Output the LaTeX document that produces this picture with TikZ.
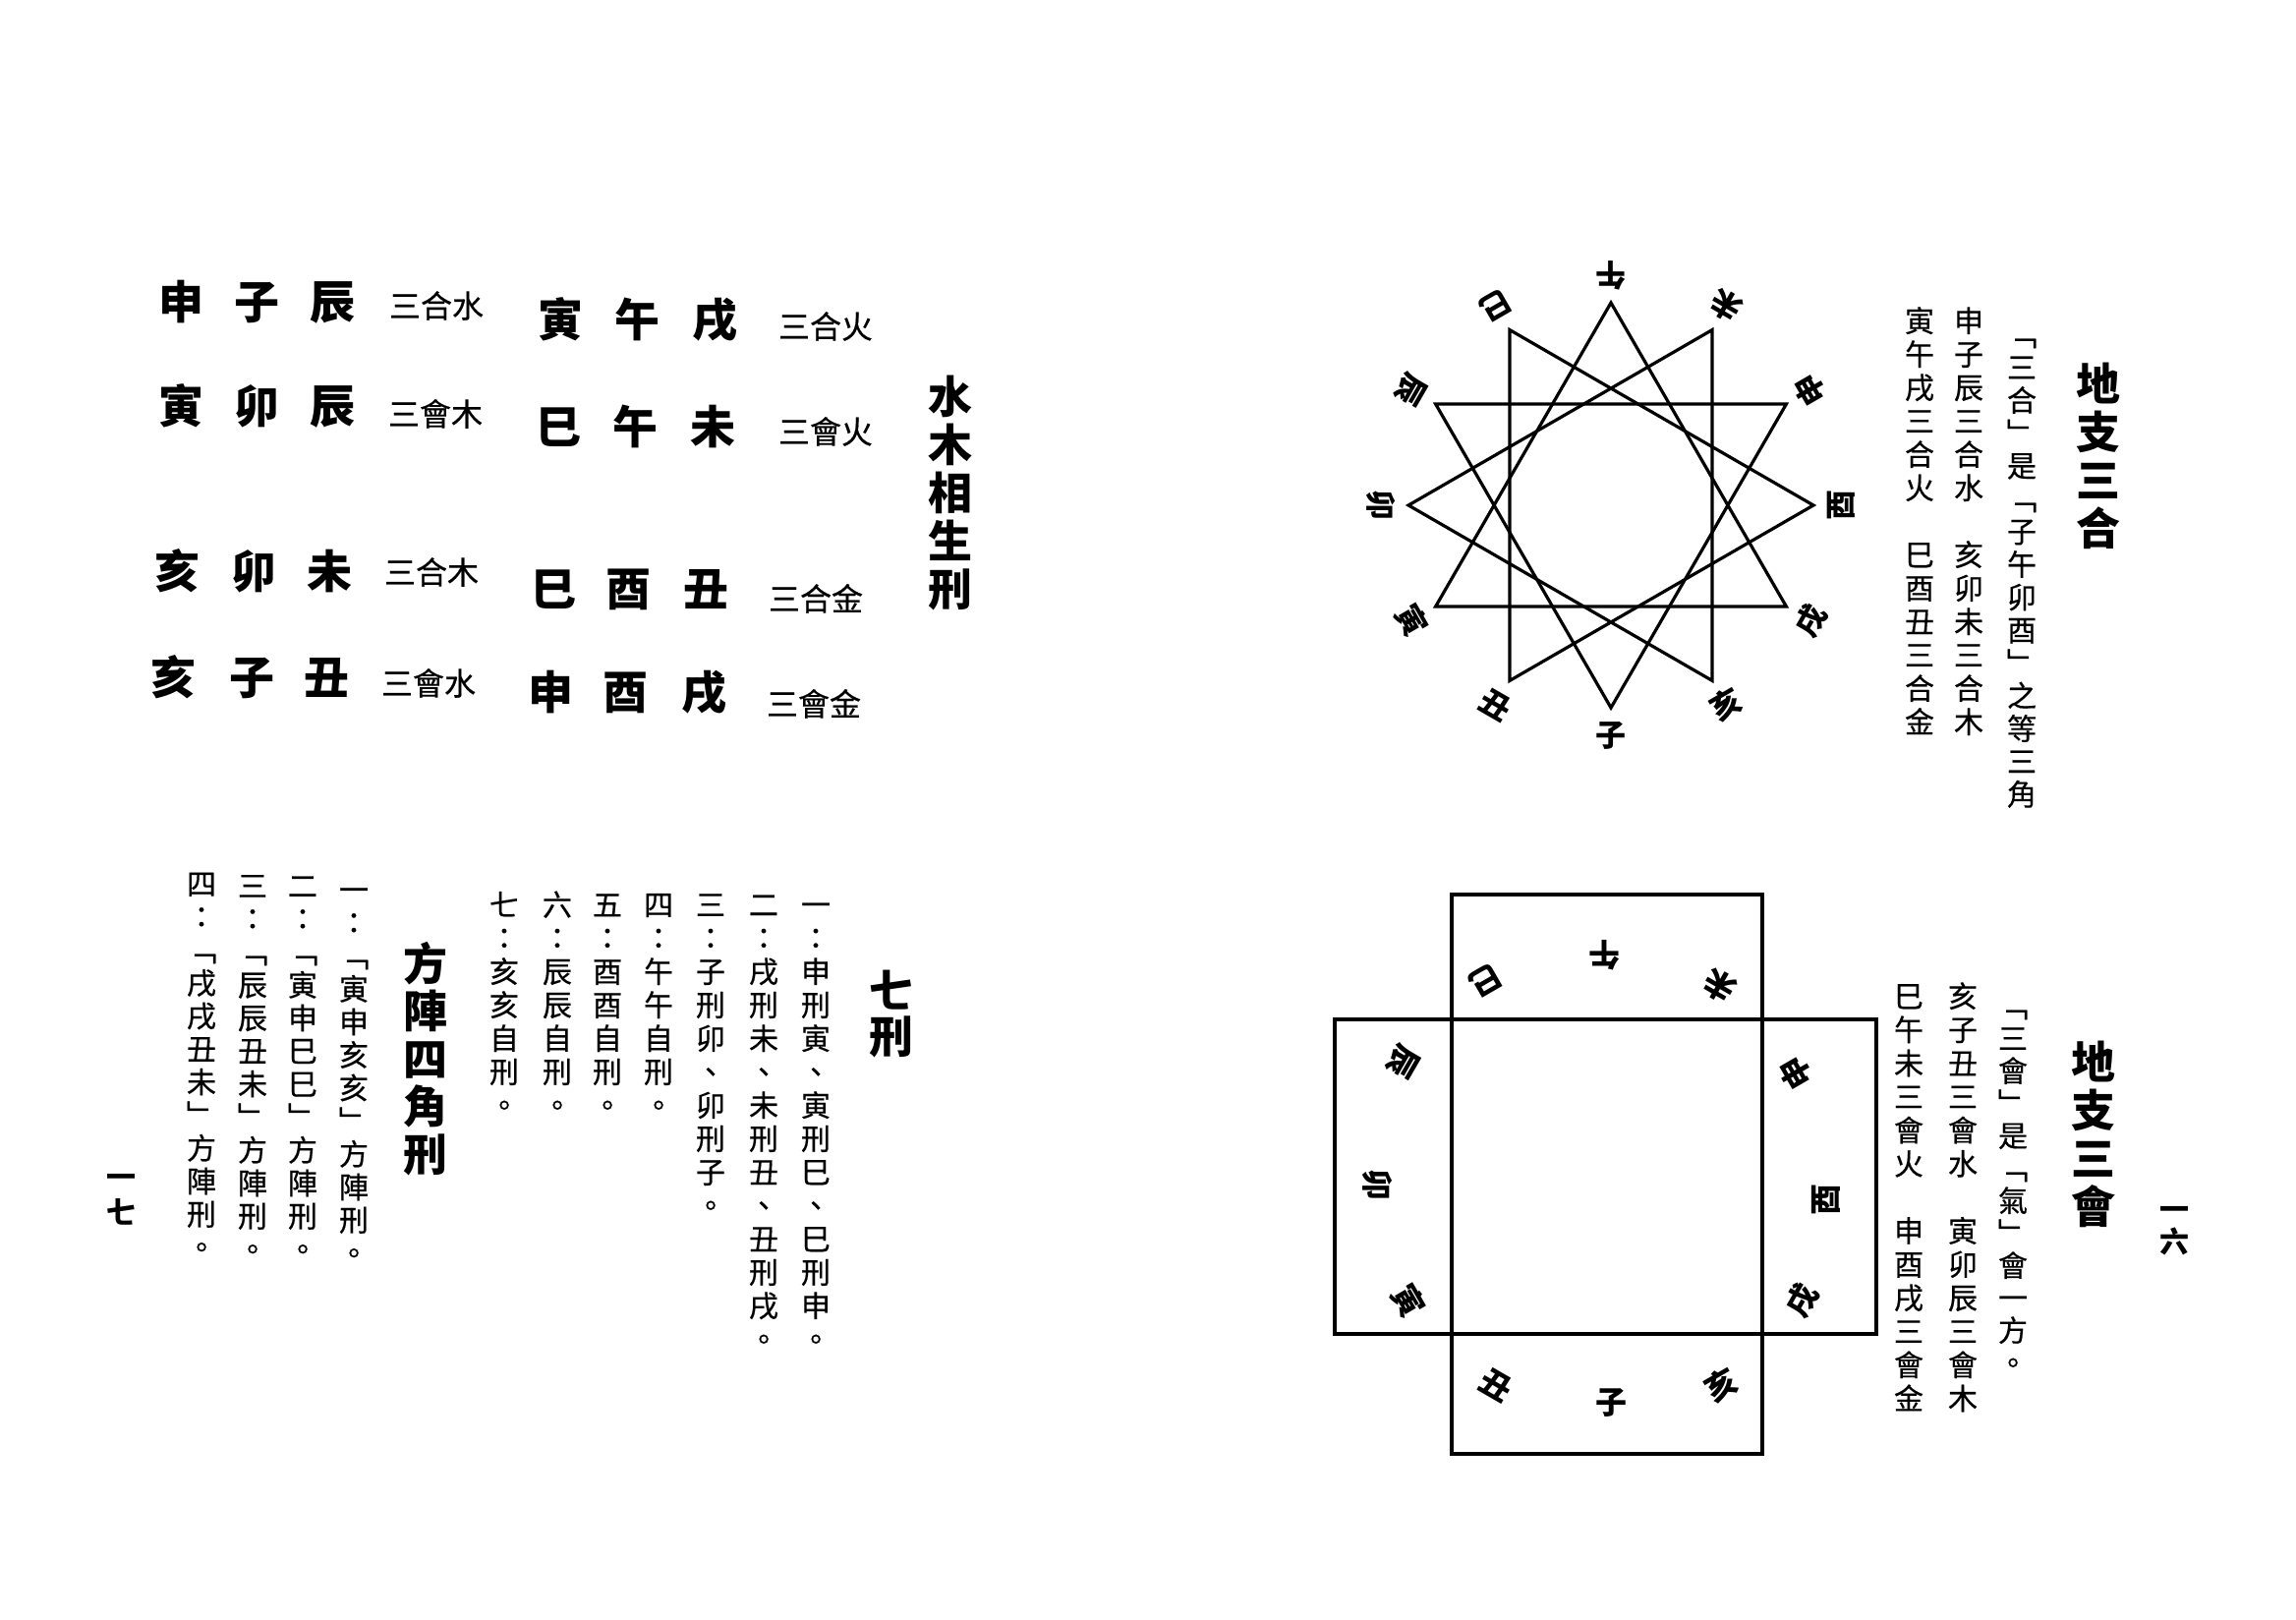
\documentclass[tikz,border=0pt]{standalone}
\usepackage{fontspec}
\newfontfamily\cjk{Noto Sans CJK TC}
\newfontfamily\cjkm[FakeBold=0.5]{Noto Sans CJK TC}
\newlength\vpitch
\def\vend{}
\newcommand\vcell[1]{\vbox to \vpitch{\vss\hbox to \vpitch{\hss\vrule height .88em depth .12em width 0pt\relax #1\hss}\vss}}
\def\vloop#1{\ifx#1\vend\else\vcell{#1}\expandafter\vloop\fi}
\newcommand\vstack[2]{\vpitch=#1\relax\vbox{\offinterlineskip\vloop#2\vend}}
\newcommand\bodyf{\cjkm\fontsize{30}{34}\selectfont}
\newcommand\titlef{\cjk\bfseries\fontsize{45}{49}\selectfont}
\tikzset{
  big/.style={font=\cjk\bfseries\fontsize{46}{46}\selectfont, inner sep=0, text height=40.5pt, text depth=5.5pt},
  sm/.style={font=\cjkm\fontsize{32}{32}\selectfont, inner sep=0, text height=28.2pt, text depth=3.8pt},
  vcol/.style={inner sep=0, anchor=north, font=\bodyf},
  vtitle/.style={inner sep=0, anchor=north, font=\titlef},
  slab/.style={font=\cjk\bfseries\fontsize{31}{31}\selectfont, inner sep=0, text height=27.3pt, text depth=3.7pt},
  qlab/.style={font=\cjk\bfseries\fontsize{32}{32}\selectfont, inner sep=0, text height=28.2pt, text depth=3.8pt},
  tri/.style={line width=3.2pt},
  boxline/.style={line width=3.2pt}
}
\begin{document}
\begin{tikzpicture}[x=1pt,y=-1pt]
\fill[white] (0,0) rectangle (2336,1648);
\useasboundingbox (0,0) rectangle (2336,1648);

% ---------- left page: table ----------
\node[big] (r1a) at (184,307) {申};
\node[big] (r1b) at (261,307) {子};
\node[big] (r1c) at (338,307) {辰};
\node[sm]  (r1d) at (444,311) {三合水};
\node[big] (r1e) at (570,325) {寅};
\node[big] (r1f) at (648,325) {午};
\node[big] (r1g) at (727,325) {戌};
\node[sm]  (r1h) at (840,332) {三合火};

\node[big] (r2a) at (184,413) {寅};
\node[big] (r2b) at (261,413) {卯};
\node[big] (r2c) at (338,413) {辰};
\node[sm]  (r2d) at (443,421) {三會木};
\node[big] (r2e) at (568,434) {巳};
\node[big] (r2f) at (646,434) {午};
\node[big] (r2g) at (725,434) {未};
\node[sm]  (r2h) at (840,439) {三會火};

\node[big] (r3a) at (180,581) {亥};
\node[big] (r3b) at (258,581) {卯};
\node[big] (r3c) at (335,581) {未};
\node[sm]  (r3d) at (439,582) {三合木};
\node[big] (r3e) at (563,599) {巳};
\node[big] (r3f) at (639,599) {酉};
\node[big] (r3g) at (718,599) {丑};
\node[sm]  (r3h) at (830,609) {三合金};

\node[big] (r4a) at (176,689) {亥};
\node[big] (r4b) at (256,689) {子};
\node[big] (r4c) at (332,689) {丑};
\node[sm]  (r4d) at (436,695) {三會水};
\node[big] (r4e) at (560,704) {申};
\node[big] (r4f) at (636,704) {酉};
\node[big] (r4g) at (716,704) {戌};
\node[sm]  (r4h) at (828,716) {三會金};

\node[vtitle] (sms) at (967,378.5) {\vstack{49pt}{水木相生刑}};

% ---------- left page: seven punishments ----------
\node[vtitle] (qx) at (907,983.5) {\vstack{47pt}{七刑}};
\node[vcol] (q1) at (830,903) {\vstack{34pt}{一：申刑寅、寅刑巳、巳刑申。}};
\node[vcol] (q2) at (777,903) {\vstack{34pt}{二：戌刑未、未刑丑、丑刑戌。}};
\node[vcol] (q3) at (723,903) {\vstack{34pt}{三：子刑卯、卯刑子。}};
\node[vcol] (q4) at (670,903) {\vstack{34pt}{四：午午自刑。}};
\node[vcol] (q5) at (618,903) {\vstack{34pt}{五：酉酉自刑。}};
\node[vcol] (q6) at (567,903) {\vstack{34pt}{六：辰辰自刑。}};
\node[vcol] (q7) at (513,903) {\vstack{34pt}{七：亥亥自刑。}};

% ---------- left page: square-array punishments ----------
\node[vtitle] (fx) at (433,955.5) {\vstack{48.5pt}{方陣四角刑}};
\node[vcol] (f1) at (360,888) {\vstack{33.6pt}{一：﹁寅申亥亥﹂方陣刑。}};
\node[vcol] (f2) at (308,884) {\vstack{33.6pt}{二：﹁寅申巳巳﹂方陣刑。}};
\node[vcol] (f3) at (257,884) {\vstack{33.6pt}{三：﹁辰辰丑未﹂方陣刑。}};
\node[vcol] (f4) at (205,882) {\vstack{33.6pt}{四：﹁戌戌丑未﹂方陣刑。}};

\node[vcol, font=\cjk\bfseries\fontsize{30}{34}\selectfont] (pl) at (123,1179) {\vstack{36pt}{一七}};

% ---------- right page: star of triads ----------
\foreach \b [count=\i from 0] in {子,丑,寅,卯,辰,巳,午,未,申,酉,戌,亥} {
  \pgfmathsetmacro\ang{270-30*\i}
  \pgfmathsetmacro\rot{360-30*\i}
  \coordinate (v\i) at ({1639+206*cos(\ang)},{514-206*sin(\ang)});
  \node[slab,rotate=\rot] (s\i) at ({1639+234*cos(\ang)},{514-234*sin(\ang)}) {\b};
}
\draw[tri] (v8)--(v0)--(v4)--cycle;
\draw[tri] (v11)--(v3)--(v7)--cycle;
\draw[tri] (v2)--(v6)--(v10)--cycle;
\draw[tri] (v5)--(v9)--(v1)--cycle;

\node[vtitle] (h1) at (2135,365.5) {\vstack{49pt}{地支三合}};
\node[vcol] (h1a) at (2057,323.3) {\vstack{33.4pt}{﹁三合﹂是﹁子午卯酉﹂之等三角}};
\node[vcol] (h1b) at (2003,309) {\vstack{34pt}{申子辰三合水　亥卯未三合木}};
\node[vcol] (h1c) at (1953,309) {\vstack{34pt}{寅午戌三合火　巳酉丑三合金}};

% ---------- right page: square of seasonal directions ----------
\draw[boxline] (1477,1037) rectangle (1793,1357);
\draw[boxline] (1477,1037) -- (1477,910) -- (1793,910) -- (1793,1037);
\draw[boxline] (1477,1357) -- (1477,1479) -- (1793,1479) -- (1793,1357);
\draw[boxline] (1477,1037) -- (1358,1037) -- (1358,1357) -- (1477,1357);
\draw[boxline] (1793,1037) -- (1909,1037) -- (1909,1357) -- (1793,1357);

\foreach \b/\rr/\px/\py in {子/0/1639/1426, 丑/330/1522/1409, 寅/300/1433/1323,
  卯/270/1402/1205, 辰/240/1428/1080, 巳/210/1512/998, 午/180/1632/972,
  未/150/1750/1003, 申/120/1827/1092, 酉/90/1857/1220, 戌/60/1833/1323,
  亥/30/1751/1409} {
  \node[qlab,rotate=\rr] (q\rr) at (\px,\py) {\b};
}

\node[vtitle] (h2) at (2130,1055.5) {\vstack{49pt}{地支三會}};
\node[vcol] (h2a) at (2048,1006.5) {\vstack{33pt}{﹁三會﹂是﹁氣﹂會一方。}};
\node[vcol] (h2b) at (1997,996) {\vstack{34.1pt}{亥子丑三會水　寅卯辰三會木}};
\node[vcol] (h2c) at (1942,996) {\vstack{34.1pt}{巳午未三會火　申酉戌三會金}};

\node[vcol, font=\cjk\bfseries\fontsize{30}{34}\selectfont] (pr) at (2212,1213.5) {\vstack{33pt}{一六}};
\end{tikzpicture}
\end{document}
